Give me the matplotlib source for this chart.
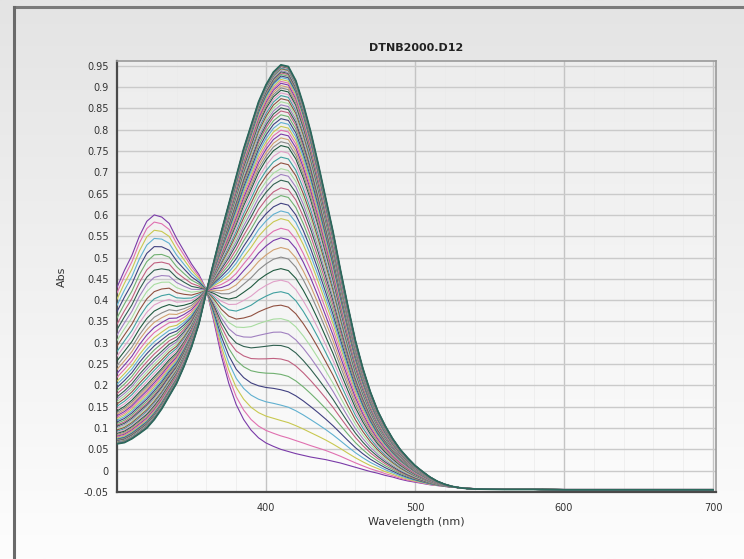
import numpy as np
import matplotlib
matplotlib.use("Agg")
import matplotlib.pyplot as plt
from matplotlib.lines import Line2D
from matplotlib.ticker import MultipleLocator, FixedLocator
from matplotlib.colors import LinearSegmentedColormap

# ---------------- data ----------------
wavelength = [300, 305, 310, 315, 320, 325, 330, 335, 340, 345, 350, 355, 360, 365, 370,
              375, 380, 385, 390, 395, 400, 405, 410, 415, 420, 425, 430, 435, 440, 445,
              450, 455, 460, 465, 470, 475, 480, 485, 490, 495, 500, 505, 510, 515, 520,
              525, 530, 535, 540, 560, 580, 600, 620, 640, 660, 680, 700]

# first scan (DTNB band at ~325 nm)
abs_start = [0.430, 0.470, 0.505, 0.550, 0.585, 0.600, 0.595, 0.580, 0.545, 0.515, 0.485,
             0.460, 0.425, 0.350, 0.270, 0.205, 0.155, 0.120, 0.095, 0.077, 0.065, 0.057,
             0.050, 0.045, 0.040, 0.036, 0.032, 0.029, 0.026, 0.022, 0.018, 0.013, 0.008,
             0.003, -0.002, -0.006, -0.011, -0.015, -0.020, -0.024, -0.027, -0.030, -0.033,
             -0.035, -0.037, -0.039, -0.040, -0.041, -0.042, -0.043, -0.043, -0.044, -0.044,
             -0.044, -0.044, -0.044, -0.044]

# last scan (TNB band at ~412 nm)
abs_end = [0.063, 0.066, 0.075, 0.087, 0.100, 0.120, 0.145, 0.175, 0.205, 0.245, 0.290,
           0.345, 0.420, 0.490, 0.560, 0.625, 0.690, 0.755, 0.810, 0.865, 0.905, 0.935,
           0.952, 0.948, 0.915, 0.860, 0.795, 0.720, 0.640, 0.560, 0.470, 0.385, 0.305,
           0.240, 0.185, 0.140, 0.105, 0.075, 0.050, 0.030, 0.012, -0.002, -0.015, -0.025,
           -0.032, -0.037, -0.040, -0.042, -0.043, -0.044, -0.044, -0.045, -0.045, -0.045,
           -0.045, -0.045, -0.045]

# extent of conversion of each successive scan
reaction_extent = [0.0, 0.035, 0.075, 0.115, 0.155, 0.195, 0.235, 0.27, 0.305, 0.34, 0.375,
                   0.41, 0.44, 0.47, 0.5, 0.525, 0.55, 0.575, 0.6, 0.62, 0.64, 0.66, 0.68,
                   0.7, 0.715, 0.73, 0.745, 0.76, 0.775, 0.79, 0.8, 0.81, 0.82, 0.83, 0.84,
                   0.85, 0.86, 0.87, 0.88, 0.888, 0.896, 0.904, 0.912, 0.92, 0.927, 0.934,
                   0.94, 0.946, 0.952, 0.957, 0.962, 0.967, 0.971, 0.975, 0.979, 0.982,
                   0.985, 0.988, 0.99, 0.992, 0.994, 0.996, 0.997, 0.998, 0.999, 1.0]

x_ticks = [400, 500, 600, 700]
title = "DTNB2000.D12"

palette = ['#7a3aa8', '#e070b0', '#c8c850', '#60b0d0', '#404080', '#70b070', '#c06080',
           '#306050', '#a080c0', '#a8dca0', '#905040', '#40a0a0', '#e0a0c8', '#205a40',
           '#8a8a8a', '#d0a070']

# ---------------- figure ----------------
W, H = 744, 559
fig = plt.figure(figsize=(W / 100, H / 100), dpi=100)

# background gradient
bg = fig.add_axes([0, 0, 1, 1], zorder=-10)
grad = np.linspace(0, 1, 256).reshape(-1, 1)
cm_bg = LinearSegmentedColormap.from_list("bg", ["#e4e4e4", "#fdfdfd"])
bg.imshow(grad, aspect="auto", cmap=cm_bg, extent=[0, 1, 0, 1], origin="upper")
bg.set_xlim(0, 1)
bg.set_ylim(0, 1)
bg.axis("off")
# outer frame lines (top and left)
fig.add_artist(Line2D([14 / W, 1], [1 - 7 / H, 1 - 7 / H], color="#7a7a7a", lw=2.2))
fig.add_artist(Line2D([14 / W, 14 / W], [0, 1 - 7 / H], color="#6a6a6a", lw=2.2))

left, right, top, bottom = 117 / W, 716 / W, 61 / H, 492 / H
ax = fig.add_axes([left, 1 - bottom, right - left, bottom - top])

# plot-area gradient
cm_ax = LinearSegmentedColormap.from_list("ax", ["#ededed", "#fbfbfb"])
ax.imshow(grad, aspect="auto", cmap=cm_ax, extent=[300, 702, -0.05, 0.961],
          origin="upper", zorder=0)

wl = np.array(wavelength)
a0 = np.array(abs_start)
a1 = np.array(abs_end)
n = len(reaction_extent)
for i, f in enumerate(reaction_extent):
    y = a0 + f * (a1 - a0)
    col = palette[i % len(palette)]
    lw = 0.8
    if i == n - 1:
        col, lw = '#2b6a5c', 1.3
    ax.plot(wl, y, color=col, lw=lw, zorder=3)

ax.set_xlim(300, 702)
ax.set_ylim(-0.05, 0.961)
ax.xaxis.set_major_locator(FixedLocator(x_ticks))
ax.xaxis.set_minor_locator(MultipleLocator(20))

ax.grid(True, which="major", axis="y", color="#cacaca", lw=1.0, zorder=1)
ax.grid(True, which="major", axis="x", color="#c4c4c4", lw=1.0, zorder=1)
ax.grid(True, which="minor", axis="x", color="#ebebeb", lw=0.5, zorder=1)
ax.set_axisbelow(True)

yt = np.round(np.arange(-0.05, 0.951, 0.05), 2)
ylabels = []
for v in yt:
    s = "%g" % v
    if s == "-0":
        s = "0"
    ylabels.append(s)
ax.set_yticks(yt)
ax.set_yticklabels(ylabels)

ax.tick_params(axis="both", which="both", length=0, labelsize=7, colors="#333333", pad=6)
ax.tick_params(axis="x", pad=8)

for side in ["left", "bottom"]:
    ax.spines[side].set_color("#4a4a4a")
    ax.spines[side].set_linewidth(1.6)
for side in ["top", "right"]:
    ax.spines[side].set_color("#9a9a9a")
    ax.spines[side].set_linewidth(1.2)

ax.set_title(title, fontsize=8, fontweight="bold", color="#222222", pad=7)
ax.set_xlabel("Wavelength (nm)", fontsize=8, color="#333333", labelpad=3)
ax.set_ylabel("Abs", fontsize=8, color="#333333", labelpad=12)

fig.savefig("out.png", dpi=100)
